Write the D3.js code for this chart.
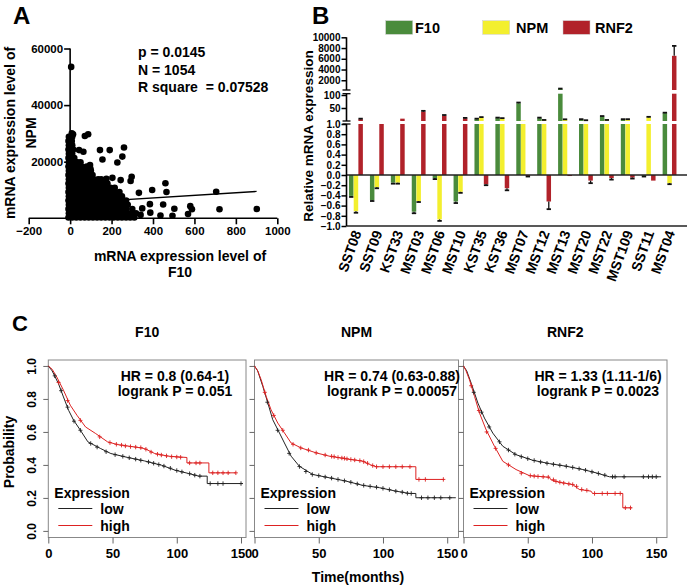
<!DOCTYPE html>
<html><head><meta charset="utf-8">
<script src="https://cdn.jsdelivr.net/npm/d3@7"></script>
<style>
body{margin:0;background:#fff}
svg text{font-family:"Liberation Sans",Arial,Helvetica,sans-serif;font-weight:bold;fill:#000}
</style>
</head><body>
<svg id="c" width="688" height="586"></svg>
<script>
// ================= PANEL A DATA =================
const scatterOutliers = [[5,53500],[8,30000],[14,29700],[71,29100],[87,29700],[43,24100],[64,23500],[144,24100],[191,24100],[260,25000],[252,21800],[228,19700],[156,20800],[96,18800],[98,17500],[297,14700],[292,13200],[244,13500],[204,14300],[175,14000],[212,10600],[332,9000],[396,10000],[460,12400],[465,9300],[705,9400],[901,3300],[721,3200],[580,4300],[588,3200],[569,1500],[503,3400],[494,900],[449,4900],[436,1000],[385,5000],[387,2000],[348,3500],[340,1200]];
const scatterRows = [
  [300,[-8,10,30,50,70,90,110,130,150,170,190,210,230,250,270,290,310]],
  [1800,[-6,12,32,52,72,92,112,132,152,172,192,212,232,252,272,295,318]],
  [3300,[-8,10,30,50,70,90,110,130,150,170,190,210,230,250,270,300]],
  [4800,[-6,12,32,52,72,92,112,132,152,172,192,212,232,252,278]],
  [6300,[-8,10,30,50,70,90,110,130,150,170,190,210,230,255,270]],
  [7800,[-6,12,32,52,72,92,112,132,152,172,192,212,235,250]],
  [9300,[-8,10,30,50,70,90,110,130,150,170,190,215,238]],
  [10800,[-6,12,32,52,72,92,112,132,152,172,195,215]],
  [12300,[-8,10,30,50,70,90,110,130,150,168,180]],
  [13800,[-6,12,32,52,72,92,112,135,150]],
  [15300,[-8,10,30,50,70,90,108]],
  [16800,[-6,12,32,52,75,100]],
  [18300,[-8,10,30,55,80]],
  [19800,[-6,12,35,50]],
  [21300,[-8,8,20]],
  [22800,[-6,10]],
  [24300,[-8,8,15]],
  [25800,[-6,10]],
  [27300,[-8,8]],
  [28800,[-6,10]]
];
const fitX = [0, 900];
const fitY = [5350, 9500];
const statsA = ["p = 0.0145", "N = 1054", "R square  = 0.07528"];
const xTicksA = [-200, 0, 200, 400, 600, 800, 1000];
const yTicksA = [20000, 40000, 60000];

// ================= PANEL B DATA =================
const categories = ["SST08","SST09","KST33","MST03","MST06","MST10","KST35","KST36","MST07","MST12","MST13","MST20","MST22","MST109","SST11","MST04"];
const seriesNames = ["F10","NPM","RNF2"];
const f10Values = [-0.41,-0.49,-0.15,-0.72,-0.06,-0.52,7,11,68,11,400,6,17,6,-0.02,30];
const npmValues = [-0.71,-0.24,-0.15,-0.51,-0.87,-0.33,13,9,1.5,3,5,2,3,6,14,-0.16];
const rnf2Values = [7,1,9,36,20,10,-0.18,-0.26,-0.02,-0.52,-0.02,-0.11,-0.06,-0.05,-0.11,6550];
const f10Err = [0.02,0.02,0.02,0.03,0.02,0.03,2,2,3,2,50,1,2,1,0.01,2];
const npmErr = [0.03,0.02,0.02,0.02,0.03,0.02,2,2,0,1,1.5,1,1,1,2,0.02];
const rnf2Err = [2,0,0,3,3,2,0.02,0.04,0.01,0.15,0,0.05,0.03,0.02,0,1850];
const topTicks = [2000,4000,6000,8000,10000];
const midTicks = [50,100];
const lowTicks = [-1,-0.8,-0.6,-0.4,-0.2,0,0.2,0.4,0.6,0.8,1];

// ================= PANEL C DATA =================
const kmTitles = ["F10","NPM","RNF2"];
const hrLabels = ["HR = 0.8 (0.64-1)","HR = 0.74 (0.63-0.88)","HR = 1.33 (1.11-1/6)"];
const pLabels = ["logrank P = 0.051","logrank P = 0.00057","logrank P = 0.0023"];
const kmXTicks = [0,50,100,150];
const kmYTicks = [0,0.2,0.4,0.6,0.8,1.0];
const f10Low = [[0,1],[3,0.97],[7.9,0.893],[11.8,0.812],[15.8,0.731],[19.7,0.671],[25,0.61],[30.8,0.54],[40.8,0.499],[48.7,0.469],[61.9,0.445],[75,0.424],[88.2,0.398],[98.7,0.368],[109.2,0.348],[117.1,0.332],[123.7,0.332],[123.7,0.287],[151.3,0.287]];
const f10High = [[0,1],[3,0.98],[6.6,0.933],[11.8,0.853],[17.1,0.762],[22.3,0.701],[29,0.63],[36.9,0.59],[46.1,0.54],[54,0.523],[67.2,0.509],[75,0.499],[82.9,0.469],[93.4,0.453],[107.9,0.445],[107.9,0.412],[125,0.412],[125,0.352],[146,0.352]];
const npmLow = [[0,1],[2.5,0.97],[6.5,0.875],[10.4,0.775],[14.2,0.674],[19.4,0.594],[23.3,0.533],[28.5,0.453],[34.9,0.392],[45.3,0.342],[58.3,0.322],[71.2,0.302],[84.2,0.276],[97.2,0.262],[110.1,0.241],[120.5,0.227],[125.6,0.227],[125.6,0.201],[156.7,0.201]];
const npmHigh = [[0,1],[2.5,0.97],[5.2,0.916],[9.1,0.815],[12.9,0.734],[18.1,0.654],[23.3,0.594],[28.5,0.533],[36.3,0.503],[48,0.473],[58.3,0.453],[71.2,0.437],[84.2,0.423],[89.4,0.403],[94.6,0.389],[125.6,0.389],[125.6,0.312],[147.6,0.312]];
const rnf2Low = [[0,1],[2.5,0.97],[6,0.895],[11.2,0.775],[16.3,0.684],[22.8,0.593],[30.6,0.513],[40.9,0.462],[54,0.428],[66.9,0.408],[79.9,0.392],[92.9,0.372],[103.2,0.352],[113.6,0.328],[153.8,0.328]];
const rnf2High = [[0,1],[2,0.97],[4.7,0.915],[8.6,0.815],[12.5,0.714],[17.6,0.613],[24.1,0.513],[30.6,0.422],[40.9,0.372],[51.3,0.335],[66.9,0.325],[68,0.31],[74.7,0.295],[85,0.281],[90.2,0.251],[99.3,0.241],[100.5,0.227],[124,0.227],[124,0.14],[131,0.14]];
const f10LowCens = [[5,0.94],[10,0.85],[15,0.75],[20,0.665],[25,0.61],[33,0.53],[38,0.508],[45,0.48],[52,0.462],[58,0.452],[63,0.443],[68,0.435],[72,0.428],[78,0.418],[82,0.41],[86,0.402],[90,0.393],[95,0.38],[100,0.366],[104,0.358],[110,0.347],[114,0.338],[118,0.332],[126,0.287],[132,0.287],[136,0.287],[150,0.287]];
const f10HighCens = [[8,0.9],[15,0.79],[25,0.67],[40,0.57],[48,0.535],[53,0.525],[57,0.52],[60,0.515],[64,0.511],[68,0.508],[72,0.505],[76,0.495],[80,0.478],[85,0.465],[88,0.46],[92,0.455],[96,0.45],[100,0.448],[103,0.446],[110,0.412],[115,0.412],[118,0.412],[128,0.352],[132,0.352],[136,0.352],[140,0.352],[146,0.352]];
const npmLowCens = [[10,0.78],[18,0.61],[27,0.47],[35,0.39],[40,0.36],[45,0.342],[50,0.335],[55,0.327],[60,0.32],[65,0.312],[70,0.304],[75,0.295],[80,0.285],[85,0.276],[90,0.27],[95,0.265],[100,0.258],[105,0.25],[110,0.241],[115,0.235],[119,0.228],[122,0.227],[130,0.201],[135,0.201],[140,0.201],[145,0.201],[152,0.201]];
const npmHighCens = [[8,0.84],[15,0.7],[22,0.61],[30,0.525],[36,0.503],[42,0.49],[48,0.473],[55,0.46],[60,0.452],[62,0.45],[65,0.445],[68,0.442],[70,0.44],[72,0.437],[75,0.433],[78,0.43],[82,0.426],[85,0.42],[88,0.41],[92,0.396],[95,0.389],[100,0.389],[105,0.389],[110,0.389],[115,0.389],[121,0.389],[128,0.312],[133,0.312],[147,0.312]];
const rnf2LowCens = [[8,0.84],[14,0.72],[20,0.63],[28,0.54],[35,0.49],[40,0.465],[45,0.45],[50,0.438],[55,0.427],[60,0.418],[65,0.41],[70,0.404],[75,0.398],[80,0.392],[85,0.385],[90,0.377],[95,0.368],[100,0.358],[105,0.348],[110,0.338],[116,0.328],[118,0.328],[125,0.328],[140,0.328],[144,0.328],[147,0.328],[150,0.328]];
const rnf2HighCens = [[6,0.88],[12,0.73],[18,0.6],[25,0.5],[35,0.4],[45,0.35],[52,0.335],[55,0.332],[58,0.33],[62,0.328],[66,0.326],[70,0.31],[72,0.3],[75,0.295],[78,0.29],[82,0.285],[85,0.281],[88,0.27],[92,0.251],[96,0.246],[102,0.227],[108,0.227],[112,0.227],[118,0.227],[122,0.227],[126,0.14],[130,0.14]];

// ================= DRAW =================
const svg = d3.select("#c");
svg.append("rect").attr("width",688).attr("height",586).attr("fill","#fff");
const FONT = '"Liberation Sans",Arial,sans-serif';

function label(g, txt, x, y, size, anchor, rot) {
  const t = g.append("text").attr("x", x).attr("y", y).attr("font-size", size)
    .attr("text-anchor", anchor || "start").attr("dominant-baseline", "central")
    .style("white-space", "pre").text(txt);
  if (rot) t.attr("transform", `rotate(${rot},${x},${y})`);
  return t;
}

label(svg, "A", 13, 15, 24);
label(svg, "B", 312, 15, 24);
label(svg, "C", 12, 323, 22);

// ---------- Panel A ----------
(function(){
  const g = svg.append("g");
  const x = d3.scaleLinear().domain([-200, 1000]).range([28.7, 277.3]);
  const y = d3.scaleLinear().domain([0, 60000]).range([218.3, 48.5]);
  const pts = scatterRows.flatMap(r => r[1].map(xv => [xv, r[0]])).concat(scatterOutliers);
  g.selectAll("circle.dot").data(pts).join("circle")
    .attr("cx", d => x(d[0])).attr("cy", d => y(d[1])).attr("r", 3.3).attr("fill", "#000");
  g.append("line").attr("x1", x(fitX[0])).attr("y1", y(fitY[0])).attr("x2", x(fitX[1])).attr("y2", y(fitY[1]))
    .attr("stroke", "#000").attr("stroke-width", 1.4);
  const xa = g.append("g").attr("transform", `translate(0,${y(0)})`)
    .call(d3.axisBottom(x).tickValues(xTicksA).tickSize(6).tickPadding(3).tickFormat(d3.format("d")));
  const ya = g.append("g").attr("transform", `translate(${x(0)},0)`)
    .call(d3.axisLeft(y).tickValues(yTicksA).tickSize(6).tickPadding(1).tickFormat(d3.format("d")));
  [xa, ya].forEach(a => {
    a.select(".domain").attr("stroke", "#000").attr("stroke-width", 1.6);
    a.selectAll(".tick line").attr("stroke", "#000").attr("stroke-width", 1.6);
    a.selectAll("text").attr("font-size", 11.5).style("font-family", FONT);
  });
  xa.select(".domain").attr("d", `M${x(-200)},0H${x(1000)}`);
  ya.select(".domain").attr("d", `M0,${y(0)}V${y(60000)}`);
  statsA.forEach((s, i) => label(g, s, 138, 52 + i * 17.5, 14));
  label(g, "mRNA expression level of", 10, 133, 14, "middle", -90);
  label(g, "NPM", 31, 133, 14, "middle", -90);
  label(g, "mRNA expression level of", 180, 256, 14, "middle");
  label(g, "F10", 180, 272, 14, "middle");
})();

// ---------- Panel B ----------
(function(){
  const g = svg.append("g");
  const colors = {F10: "#4a8b3c", NPM: "#f3ef2e", RNF2: "#b1222a"};
  const series = [
    {name: "F10", vals: f10Values, err: f10Err},
    {name: "NPM", vals: npmValues, err: npmErr},
    {name: "RNF2", vals: rnf2Values, err: rnf2Err}
  ];
  const x0 = d3.scaleBand().domain(categories).range([345.5, 680]).paddingInner(0.32).paddingOuter(0.16);
  const x1 = d3.scaleBand().domain(seriesNames).range([0, x0.bandwidth()]).padding(0.04);
  const yLow = d3.scaleLinear().domain([-1, 1]).range([226, 124]);
  const yMid = d3.scaleLinear().domain([0, 105]).range([121, 93.7]);
  const yTop = d3.scaleLinear().domain([0, 10000]).range([91, 37.3]);
  const midBottom = 121, midTop = 93.7, topBottom = 90, midMax = 105, lowTop = 124;
  const axisX = 346.5;

  series.forEach(s => {
    s.vals.forEach((v, i) => {
      const bx = x0(categories[i]) + x1(s.name), bw = x1.bandwidth();
      const rects = [];
      if (v < 0) rects.push([yLow(0), yLow(v)]);
      else {
        rects.push([yLow(Math.min(v, 1)), yLow(0)]);
        if (v > 1) rects.push([yMid(Math.min(v, midMax)), midBottom]);
        if (v > midMax) rects.push([yTop(v), topBottom]);
      }
      rects.forEach(r => g.append("rect").attr("x", bx).attr("width", bw)
        .attr("y", Math.min(r[0], r[1])).attr("height", Math.abs(r[1] - r[0])).attr("fill", colors[s.name]));
      const e = s.err[i];
      if (e > 0) {
        let ya, yb;
        if (v < 0) { ya = yLow(v); yb = yLow(v - e); }
        else if (v <= 1) { ya = yLow(v); yb = yLow(v + e); }
        else if (v <= midMax) { ya = yMid(v); yb = yMid(v + e); }
        else { ya = yTop(v); yb = yTop(v + e); }
        const cx = bx + bw / 2;
        g.append("line").attr("x1", cx).attr("x2", cx).attr("y1", ya).attr("y2", yb).attr("stroke", "#111").attr("stroke-width", 1.3);
        g.append("line").attr("x1", cx - 2.2).attr("x2", cx + 2.2).attr("y1", yb).attr("y2", yb).attr("stroke", "#111").attr("stroke-width", 1.8);
      }
    });
  });

  g.append("line").attr("x1", axisX).attr("x2", 687).attr("y1", yLow(0)).attr("y2", yLow(0)).attr("stroke", "#222").attr("stroke-width", 1.6);
  g.append("line").attr("x1", axisX).attr("x2", 687).attr("y1", yLow(-1)).attr("y2", yLow(-1)).attr("stroke", "#222").attr("stroke-width", 1.6);

  function seg(scale, ticks, fmt, y1, y2) {
    const a = g.append("g").attr("transform", `translate(${axisX},0)`)
      .call(d3.axisLeft(scale).tickValues(ticks).tickSize(5).tickPadding(1).tickFormat(fmt));
    a.select(".domain").attr("d", `M0,${y1}V${y2}`).attr("stroke", "#000").attr("stroke-width", 1.6);
    a.selectAll(".tick line").attr("stroke", "#000").attr("stroke-width", 1.5);
    a.selectAll("text").attr("font-size", 10).style("font-family", FONT);
  }
  seg(yTop, topTicks, d3.format("d"), 37.3, topBottom);
  seg(yMid, midTicks, d3.format("d"), midTop, midBottom);
  seg(yLow, lowTicks, d3.format(".1f"), lowTop, 226);
  [topBottom, midTop, midBottom, lowTop].forEach(yy =>
    g.append("line").attr("x1", axisX - 4).attr("x2", axisX + 4).attr("y1", yy).attr("y2", yy).attr("stroke", "#000").attr("stroke-width", 1.3));

  categories.forEach(c => {
    const cx = x0(c) + x0.bandwidth() / 2 + 1;
    label(g, c, cx, 231, 14, "end", -70);
  });
  label(g, "Relative mRNA expression", 308, 136, 13.5, "middle", -90);

  const legPos = [[385.7, 415], [482.7, 516], [563, 595]];
  seriesNames.forEach((n, i) => {
    g.append("rect").attr("x", legPos[i][0]).attr("y", 20.7).attr("width", 27).attr("height", 13.6)
      .attr("fill", colors[n]).attr("stroke", "#ccc").attr("stroke-width", 0.5);
    label(g, n, legPos[i][1], 27.5, 14.5);
  });
})();

// ---------- Panel C ----------
(function(){
  const plots = [
    {left: 48.3, right: 246, low: f10Low, high: f10High, lowC: f10LowCens, highC: f10HighCens, textX: 175, showY: true},
    {left: 254.5, right: 458.5, low: npmLow, high: npmHigh, lowC: npmLowCens, highC: npmHighCens, textX: 392, showY: false},
    {left: 463.5, right: 667, low: rnf2Low, high: rnf2High, lowC: rnf2LowCens, highC: rnf2HighCens, textX: 598, showY: false}
  ];
  const y = d3.scaleLinear().domain([-0.04, 1.036]).range([537.5, 360]);
  const lowCol = "#222", highCol = "#dd2222";
  plots.forEach((p, k) => {
    const g = svg.append("g");
    const x = d3.scaleLinear().domain([0, 157]).range([p.left, p.left + 157 * 1.2847]);
    g.append("rect").attr("x", p.left).attr("y", 360).attr("width", p.right - p.left).attr("height", 177.5)
      .attr("fill", "none").attr("stroke", "#888").attr("stroke-width", 1);
    const xa = g.append("g").attr("transform", "translate(0,537.5)")
      .call(d3.axisBottom(x).tickValues(kmXTicks).tickSize(6).tickPadding(5));
    xa.select(".domain").remove();
    xa.selectAll(".tick line").attr("stroke", "#666");
    xa.selectAll("text").attr("font-size", 13).style("font-family", FONT);
    const ya = g.append("g").attr("transform", `translate(${p.left},0)`)
      .call(d3.axisLeft(y).tickValues(kmYTicks).tickSize(5).tickFormat(p.showY ? d3.format(".1f") : ""));
    ya.select(".domain").remove();
    ya.selectAll(".tick line").attr("stroke", "#666");
    ya.selectAll(".tick text").each(function(){
      d3.select(this).attr("font-size", 12).style("font-family", FONT)
        .attr("text-anchor", "middle").attr("dominant-baseline", "central").attr("dy", null)
        .attr("transform", "rotate(-90)").attr("x", 0).attr("y", -16);
    });

    const line = d3.line().x(d => x(d[0])).y(d => y(d[1]));
    g.append("path").attr("d", line(p.low)).attr("fill", "none").attr("stroke", lowCol).attr("stroke-width", 1);
    g.append("path").attr("d", line(p.high)).attr("fill", "none").attr("stroke", highCol).attr("stroke-width", 1);
    [[p.lowC, lowCol], [p.highC, highCol]].forEach(([arr, col]) => {
      arr.forEach(d => {
        const cx = x(d[0]), cy = y(d[1]);
        g.append("path").attr("d", `M${cx - 2},${cy}H${cx + 2}M${cx},${cy - 2.2}V${cy + 2.2}`)
          .attr("stroke", col).attr("stroke-width", 0.9);
      });
    });

    label(g, kmTitles[k], (p.left + p.right) / 2, 331.7, 14, "middle");
    label(g, hrLabels[k], p.textX, 375.5, 14, "middle");
    label(g, pLabels[k], p.textX, 391, 14, "middle");
    label(g, "Expression", p.left + 6, 492.5, 14);
    g.append("line").attr("x1", p.left + 10).attr("x2", p.left + 44).attr("y1", 508.5).attr("y2", 508.5).attr("stroke", lowCol);
    g.append("line").attr("x1", p.left + 10).attr("x2", p.left + 44).attr("y1", 525.5).attr("y2", 525.5).attr("stroke", highCol);
    label(g, "low", p.left + 52, 509, 14);
    label(g, "high", p.left + 52, 526, 14);
  });
  label(svg, "Probability", 9, 452, 14, "middle", -90);
  label(svg, "Time(months)", 358, 577, 14, "middle");
})();
</script>
</body></html>
